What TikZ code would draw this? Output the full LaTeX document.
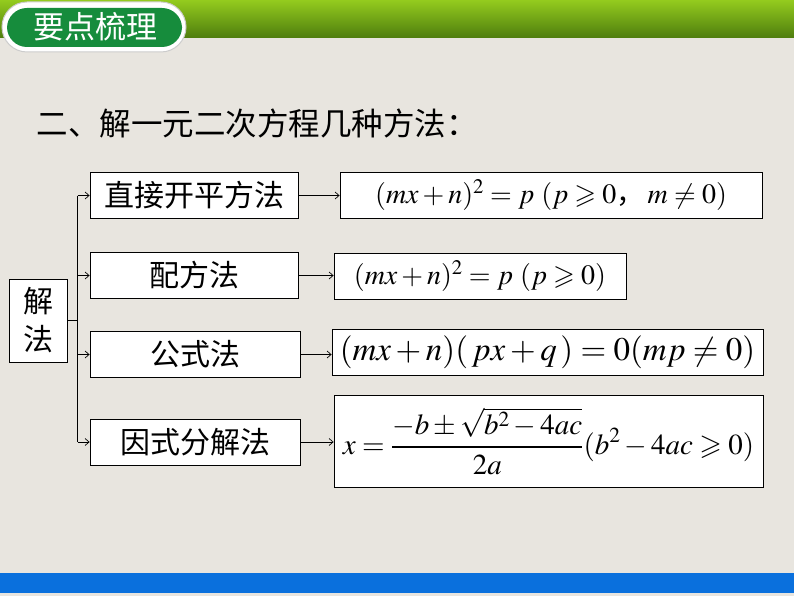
\documentclass[tikz,border=0pt]{standalone}
\usepackage{amssymb}
\usepackage{mathptmx}
\usepackage[no-math]{fontspec}
\setmainfont{Liberation Serif}
\newfontfamily\cjk{Noto Sans CJK SC}
\usetikzlibrary{calc,arrows.meta}
\definecolor{paper}{HTML}{E8E5DF}
\definecolor{barlight}{HTML}{94CB1E}
\definecolor{bardark}{HTML}{4E7D0E}
\definecolor{pillgreen}{HTML}{168C3C}
\definecolor{footblue}{HTML}{0A70DD}

\begin{document}
\begin{tikzpicture}[x=1pt,y=-1pt]
\tikzstyle{box}=[draw,fill=white,line width=0.8pt,inner sep=0pt]
\tikzstyle{cjktext}=[font=\cjk\fontsize{30}{34}\selectfont]
\tikzstyle{method}=[box,cjktext,minimum width=208,minimum height=46]
\tikzstyle{formula}=[box,font=\fontsize{28}{32}\selectfont]
\tikzstyle{link}=[-{Straight Barb[length=4pt,width=7pt]},line width=0.7pt]
% background and bars
\fill[paper] (0,0) rectangle (794,596);
\shade[top color=barlight,bottom color=bardark] (0,0) rectangle (794,38);
\fill[footblue] (0,573) rectangle (794,593);
\draw[fill=white,draw=gray!40,line width=1pt,rounded corners=25] (2,2) rectangle (186,52);
\fill[pillgreen,rounded corners=20] (7,8) rectangle (182,47);
\node[white,font=\cjk\fontsize{31}{34}\selectfont] (head) at (95,27) {要点梳理};
\node[anchor=west,font=\cjk\fontsize{31.5}{34}\selectfont] (title) at (33,123) {二、解一元二次方程几种方法：};
% root and methods
\node[box,minimum width=58,minimum height=83,align=center,
  font=\cjk\fontsize{30}{38}\selectfont] (root) at (38,320.5) {解\\法};
\node[method] (m1) at (194,195.5) {直接开平方法};
\node[method] (m2) at (194,275.5) {配方法};
\node[method,minimum width=210] (m3) at (195,354.5) {公式法};
\node[method,minimum width=210] (m4) at (195,442) {因式分解法};
% formulas
\node[formula,minimum width=422,minimum height=46] (f1) at (551,195)
  {$(mx+n)^{\mathrm{2}}=p\ (p\geqslant 0$\cjk{，}$\,m\neq 0)$};
\node[formula,minimum width=292,minimum height=46] (f2) at (480,276)
  {$(mx+n)^{\mathrm{2}}=p\ (p\geqslant 0)$};
\node[formula,minimum width=431,minimum height=46,font=\fontsize{33}{37}\selectfont] (f3) at (547.5,352)
  {$(mx+n)(\,px+q\,)=0(mp\neq 0)$};
\node[formula,minimum width=429,minimum height=92,font=\fontsize{29}{33}\selectfont] (f4) at (548.5,441)
  {$\displaystyle x=\frac{-b\pm\sqrt{b^2-4ac}}{2a}(b^2-4ac\geqslant 0)$};
% connectors
\foreach \i in {1,...,4}
  \coordinate (j\i) at ($(m\i.west)+(-12,0)$);
\draw[line width=0.7pt] (j1) -- (j4);
\draw[line width=0.7pt] (root.east) -- (root.east -| j1);
\foreach \i in {1,...,4} {
  \draw[link] (j\i) -- (m\i.west);
  \draw[link] (m\i.east) -- (m\i.east -| f\i.west);
}
\end{tikzpicture}
\end{document}
